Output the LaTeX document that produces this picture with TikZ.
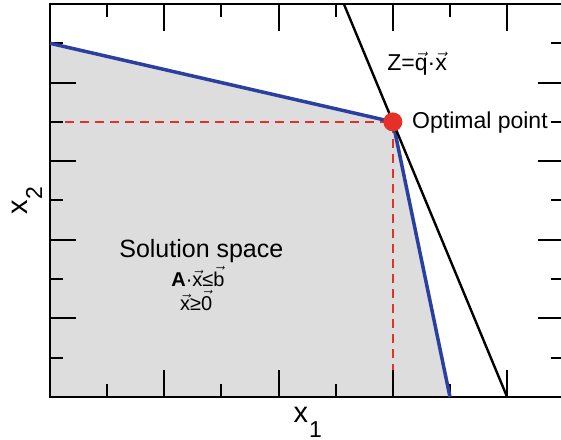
\RequirePackage{fix-cm}
\documentclass[tikz,border=0pt]{standalone}
\usepackage{amsmath}
\usepackage{fontspec}
\setmainfont{Liberation Sans}
\usepackage{xcolor}
\usepackage{tikz}
\definecolor{regiongray}{RGB}{221, 221, 221}
\definecolor{boundblue}{RGB}{43, 63, 160}
\definecolor{optred}{RGB}{228, 48, 38}
\newcommand{\axsub}[1]{\hspace{1pt}\raisebox{-15pt}{\fontsize{23}{23}\selectfont #1}}

\begin{document}
\begin{tikzpicture}[x=57.14pt, y=39.3pt]
\useasboundingbox (-0.875,-1.0687) rectangle (8.943,10.1018);
% feasible region
\fill[regiongray] (0,0) -- (0,9) -- (6,7) -- (7,0) -- cycle;
\draw[optred, line width=1.5pt, dash pattern=on 9pt off 6pt] (0,7) -- (6,7) -- (6,0);
% ticks
\foreach \x in {1,3,5,7} {
    \draw[line width=2pt] (\x,0) -- ++(0,13pt);
    \draw[line width=2pt] (\x,10) -- ++(0,-13pt);
}
\foreach \x in {2,4,6,8} {
    \draw[line width=2pt] (\x,0) -- ++(0,27pt);
    \draw[line width=2pt] (\x,10) -- ++(0,-27pt);
}
\foreach \y in {1,3,5,7,9} {
    \draw[line width=2pt] (0,\y) -- ++(13pt,0);
    \draw[line width=2pt] (9,\y) -- ++(-13pt,0);
}
\foreach \y in {2,4,6,8} {
    \draw[line width=2pt] (0,\y) -- ++(26pt,0);
    \draw[line width=2pt] (9,\y) -- ++(-26pt,0);
}
\draw[line width=2.2pt] (0,0) rectangle (9,10);
% constraints and objective
\coordinate (corner) at (0,9);
\coordinate (vertex) at (6,7);
\coordinate (foot) at (7,0);
\coordinate (zbot) at (8,0);
\coordinate (ztop) at (5.143,10);
\draw[boundblue, line width=3.5pt, line join=round] (corner) -- (vertex) -- (foot);
\draw[line width=2.4pt] (ztop) -- (zbot);
\node[circle, fill=optred, minimum size=19pt, inner sep=0pt] (opt) at (vertex) {};
% labels
\node[anchor=base west, inner sep=0pt, font=\fontsize{25}{30}\selectfont] (space) at (1.21,3.56) {Solution space};
\node[anchor=base, inner sep=0pt, font=\fontsize{20}{24}\selectfont] (cons) at (2.59,2.82) {\textbf{A}·$\vec{\text{x}}$≤$\vec{\text{b}}$};
\node[anchor=base, inner sep=0pt, font=\fontsize{20}{24}\selectfont] (nonneg) at (2.56,2.21) {$\vec{\text{x}}$≥$\vec{\text{0}}$};
\node[anchor=base west, inner sep=0pt, font=\fontsize{23}{28}\selectfont] (obj) at (5.90,8.30) {Z=$\vec{\text{q}}$·$\vec{\text{x}}$};
\node[anchor=base west, inner sep=0pt, font=\fontsize{23}{28}\selectfont] (optlabel) at (6.335,6.84) {Optimal point};
\node[anchor=base west, inner sep=0pt, font=\fontsize{29}{34}\selectfont] (xone) at (4.26,-0.66) {x\axsub{1}};
\node[anchor=base west, inner sep=0pt, rotate=90, font=\fontsize{29}{34}\selectfont] (xtwo) at (-0.40,4.63) {x\axsub{2}};
\end{tikzpicture}
\end{document}
